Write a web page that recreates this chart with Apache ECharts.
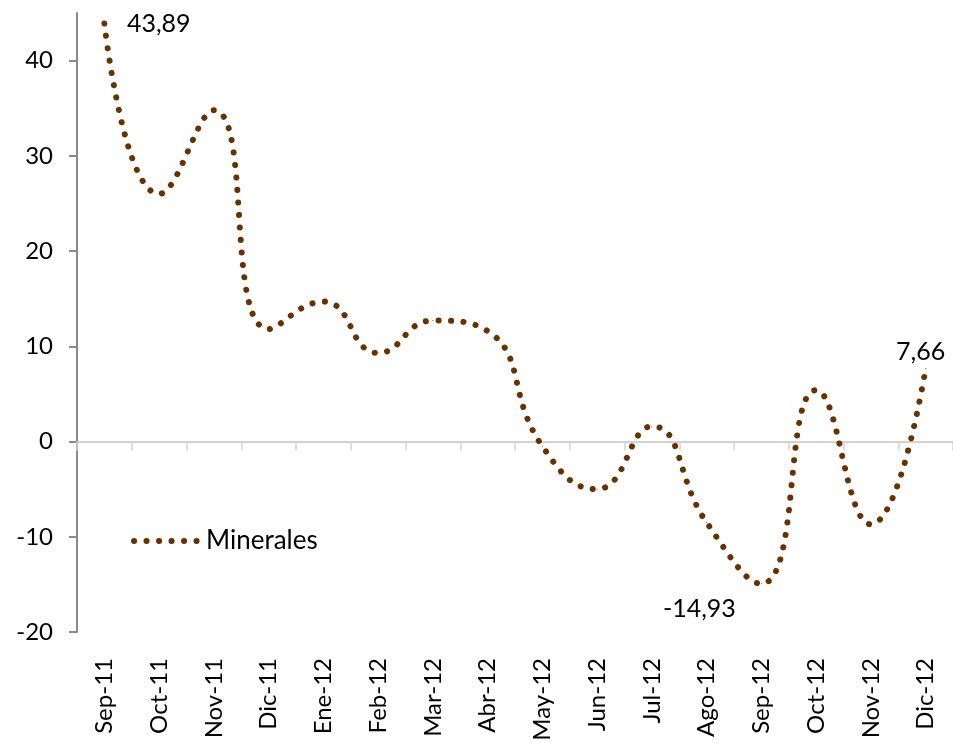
<!DOCTYPE html>
<html>
<head>
<meta charset="utf-8">
<script src="https://cdn.jsdelivr.net/npm/echarts@6/dist/echarts.min.js"></script>
<style>
html,body{margin:0;padding:0;background:#fff;}
#chart{width:953px;height:746px;}
</style>
</head>
<body>
<div id="chart"></div>
<script>
var categories = ['Sep-11','Oct-11','Nov-11','Dic-11','Ene-12','Feb-12','Mar-12','Abr-12','May-12','Jun-12','Jul-12','Ago-12','Sep-12','Oct-12','Nov-12','Dic-12'];
var minerales = [43.89, 26.0, 34.8, 11.8, 14.7, 9.3, 12.7, 11.6, -0.5, -5.0, 1.6, -8.5, -14.93, 5.4, -8.7, 7.66];
var yTicks = [-20, -10, 0, 10, 20, 30, 40];
var seriesName = 'Minerales';

var FONT = 'Lato';
var BROWN = '#663300';
var DOT = {color: BROWN, width: 6, type: [0.1, 12.4], cap: 'round'};

function fmt(v){ return v.toFixed(2).replace('.', ','); }

var labelCfg = {
  0: {show:true, position:'right', distance:22},
  12: {show:true, position:'bottom', distance:4, offset:[-62, 2], backgroundColor:'#fff', padding:[6,9]},
  15: {show:true, position:'top', distance:4, offset:[-5, 0]}
};

var seriesData = minerales.map(function(v, i){
  var d = {value: v};
  if (labelCfg[i]) {
    d.label = Object.assign({formatter: function(p){ return fmt(p.value); }, color:'#000', fontFamily:FONT, fontSize:25}, labelCfg[i]);
  }
  return d;
});

var chart = echarts.init(document.getElementById('chart'));
chart.setOption({
  animation: false,
  backgroundColor: '#fff',
  grid: {left: 77, right: -4, top: 13, bottom: 114, containLabel: false},
  legend: {
    data: [seriesName],
    left: 126, top: 523,
    itemWidth: 64, itemHeight: 14,
    itemStyle: {opacity: 0},
    lineStyle: DOT,
    textStyle: {fontFamily: FONT, fontSize: 26, color: '#000', padding: [0,0,0,3]}
  },
  xAxis: [
    {
      type: 'category', data: categories, position: 'bottom',
      axisLine: {show: true, onZero: true, lineStyle: {color: '#c4c4c4', width: 1.5}},
      axisTick: {show: true, length: 9, lineStyle: {color: '#d4d4d4', width: 1.5}},
      axisLabel: {show: false}
    },
    {
      type: 'category', data: categories, position: 'bottom',
      axisLine: {show: false, onZero: false},
      axisTick: {show: false},
      axisLabel: {show: true, rotate: 90, margin: 26, fontFamily: FONT, fontSize: 24, color: '#000'}
    }
  ],
  yAxis: {
    type: 'value', min: -20, max: 45, interval: 10,
    axisLine: {show: true, lineStyle: {color: '#8a8a8a', width: 2}},
    axisTick: {show: true, length: 8, customValues: yTicks, lineStyle: {color: '#8a8a8a', width: 2}},
    axisLabel: {show: true, customValues: yTicks, margin: 24, fontFamily: FONT, fontSize: 24, color: '#000'},
    splitLine: {show: false}
  },
  series: [{
    name: seriesName, type: 'line', xAxisIndex: 0, data: seriesData,
    smooth: 0.5, symbol: 'circle', symbolSize: 1, showSymbol: true,
    lineStyle: DOT,
    itemStyle: {color: BROWN},
    label: {show: false}
  }]
});
</script>
</body>
</html>
